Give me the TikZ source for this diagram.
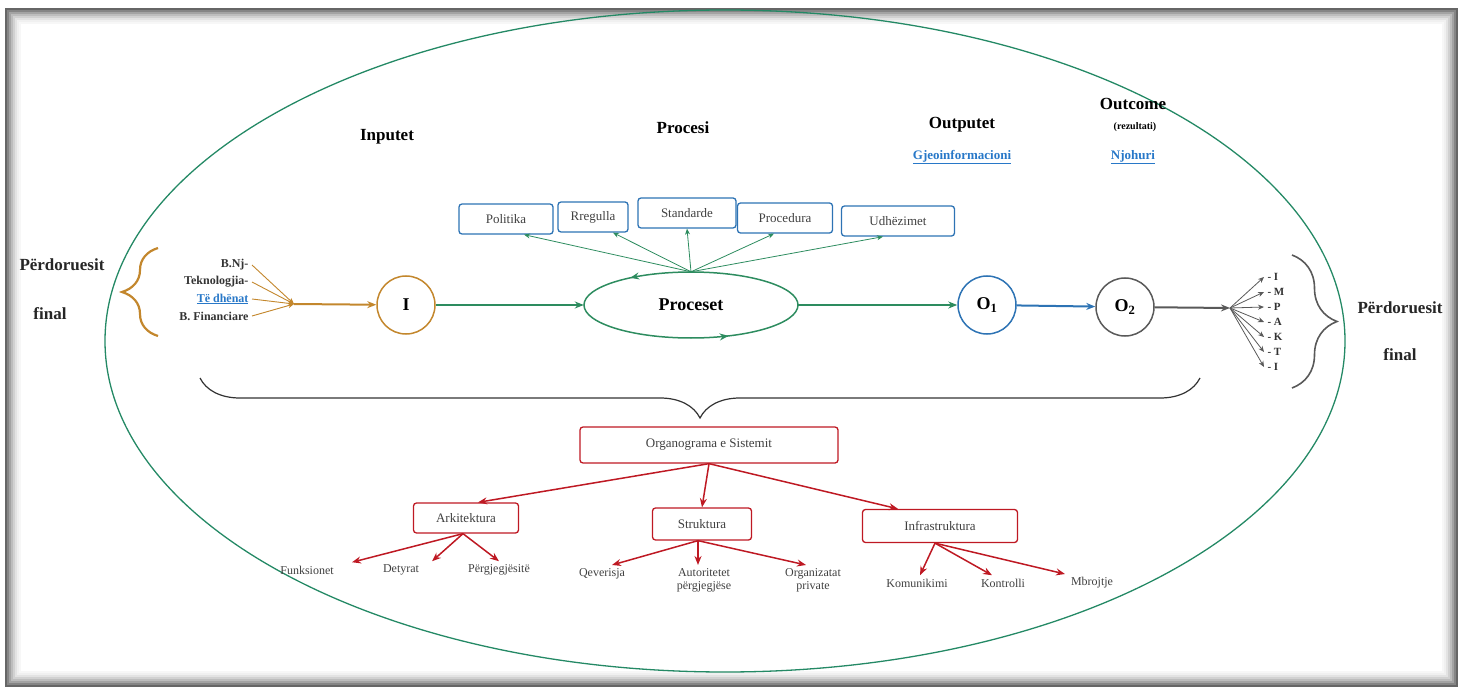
\documentclass[tikz,border=0pt]{standalone}
\usepackage{fontspec}
\setmainfont{Liberation Serif}
\usetikzlibrary{positioning,shapes.geometric,arrows,arrows.meta,decorations.pathreplacing,decorations.markings}

\definecolor{flowgreen}{RGB}{45,140,95}
\definecolor{boxblue}{RGB}{45,115,180}
\definecolor{inbrown}{RGB}{195,135,45}
\definecolor{orgred}{RGB}{190,25,35}
\definecolor{linkblue}{RGB}{40,120,200}

\tikzset{
  head/.style={font=\fontsize{17}{19}\selectfont\bfseries},
  link/.style={font=\fontsize{13}{15}\selectfont\bfseries,text=linkblue},
  procbox/.style={draw=boxblue,rounded corners=3pt,line width=1.3pt,minimum height=30pt,font=\fontsize{13}{15}\selectfont,text=black!75},
  orgbox/.style={draw=orgred,rounded corners=3pt,line width=1.3pt,minimum height=32pt,font=\fontsize{13}{15}\selectfont,text=black!75},
  leaf/.style={font=\fontsize{12}{13}\selectfont,text=black!75,align=center},
  stage/.style={circle,minimum size=58pt,line width=1.5pt,font=\fontsize{18}{20}\selectfont\bfseries},
  item/.style={font=\fontsize{12}{13}\selectfont\bfseries,text=black!80},
  user/.style={font=\fontsize{17}{19}\selectfont\bfseries,text=black!85},
  bigtip/.style={-{Stealth[length=9pt,width=7pt]}},
  smalltip/.style={-{Stealth[length=6pt,width=5pt]}},
  redarrow/.style={orgred,line width=1.5pt,-{Stealth[length=9pt,width=7pt]}}
}

\begin{document}
\begin{tikzpicture}[x=1pt,y=-1pt]
\useasboundingbox (0,0) rectangle (1470,687);
% shaded frame
\foreach \i/\c in {0/60,1/48,2/36,3/26,4/18,5/11,6/6,7/3}
  \draw[black!\c,line width=2.2pt] (6+2*\i,9+2*\i) rectangle (1457-2*\i,686-2*\i);
\draw[flowgreen!80!teal,line width=1.3pt] (725,341) ellipse [x radius=620,y radius=331];

% headings
\node[head] (inputet) at (387,137) {Inputet};
\node[head] (procesi) at (683,128) {Procesi};
\node[head] (outputet) at (962,125) {Outputet};
\node[link] (gjeo) at (962,157) {\underline{Gjeoinformacioni}};
\node[head] (outcome) at (1133,104) {Outcome};
\node[font=\fontsize{10}{11}\selectfont\bfseries] (rezultati) at (1135,127) {(rezultati)};
\node[link] (njohuri) at (1133,157) {\underline{Njohuri}};

% process boxes
\foreach \name/\txt/\x/\y/\w in {politika/Politika/506/219/94,rregulla/Rregulla/593/217/70,standarde/Standarde/687/213/98,procedura/Procedura/785/218/95,udhezimet/Udhëzimet/898/221/113}
  \node[procbox,minimum width=\w pt] (\name) at (\x,\y) {\txt};

% main flow
\node[stage,draw=inbrown] (inp) at (406,305) {I};
\node[ellipse,minimum width=214pt,minimum height=66pt,inner sep=0pt,font=\fontsize{18}{20}\selectfont\bfseries] (proc) at (691,305) {Proceset};
\draw[flowgreen,line width=1.5pt,postaction={decorate},
  decoration={markings,mark=at position 0.17 with {\arrowreversed{Stealth[length=9pt,width=7pt]}},mark=at position 0.62 with {\arrowreversed{Stealth[length=9pt,width=7pt]}}}]
  (proc.center) ellipse [x radius=107,y radius=33];
\node[stage,draw=boxblue] (out1) at (987,305) {O\textsubscript{1}};
\node[stage,draw=black!65] (out2) at (1125,307) {O\textsubscript{2}};

\draw[flowgreen,line width=0.8pt,smalltip] (proc.north) -- ([xshift=18pt]politika.south);
\draw[flowgreen,line width=0.8pt,smalltip] (proc.north) -- ([xshift=20pt]rregulla.south);
\draw[flowgreen,line width=0.8pt,smalltip] (proc.north) -- (standarde.south);
\draw[flowgreen,line width=0.8pt,smalltip] (proc.north) -- ([xshift=-11pt]procedura.south);
\draw[flowgreen,line width=0.8pt,smalltip] (proc.north) -- ([xshift=-15pt]udhezimet.south);

% inputs
\node[item,anchor=east] (bnj) at (252,265) {B.Nj-};
\node[item,anchor=east] (tek) at (252,282) {Teknologjia-};
\node[link,anchor=east,font=\fontsize{12}{13}\selectfont\bfseries] (dhenat) at (252,299) {\underline{Të dhënat}};
\node[item,anchor=east] (bfin) at (252,316) {B. Financiare};
\coordinate (gin) at (294,304);
\foreach \n in {bnj,tek,dhenat,bfin}
  \draw[inbrown,line width=0.9pt,smalltip] (\n.east) -- (gin);
\draw[inbrown,line width=2pt,bigtip] (gin) -- (inp);
\draw[inbrown,line width=2.2pt,decorate,decoration={brace,amplitude=36pt}] (158,336) -- (158,248);
\node[user] (userl) at (62,265) {Përdoruesit};
\node[user] (finall) at (50,314) {final};

\draw[flowgreen,line width=2pt,bigtip] (inp) -- (proc);
\draw[flowgreen,line width=2pt,bigtip] (proc) -- (out1);
\draw[boxblue,line width=2pt,bigtip] (out1) -- (out2);

% outcomes
\coordinate (gout) at (1230,308);
\draw[black!65,line width=2pt,bigtip] (out2) -- (gout);
\foreach \t [count=\k] in {I,M,P,A,K,T,I}
  \node[item,anchor=west,font=\fontsize{11}{12}\selectfont\bfseries] (r\k) at (1264,262+15*\k) {- \t};
\foreach \k in {1,...,7}
  \draw[black!65,line width=0.8pt,smalltip] (gout) -- (r\k.west);
\draw[black!65,line width=1.6pt,decorate,decoration={brace,amplitude=45pt}] (1292,255) -- (1292,388);
\node[user] (userr) at (1400,308) {Përdoruesit};
\node[user] (finalr) at (1400,355) {final};

% organogram
\draw[black!80,line width=1.2pt,decorate,decoration={brace,amplitude=40pt}] (1200,378) -- (200,378);
\node[orgbox,minimum width=258pt,minimum height=36pt] (org) at (709,445) {Organograma e Sistemit};
\node[orgbox,minimum width=105pt,minimum height=30pt] (ark) at (466,518) {Arkitektura};
\node[orgbox,minimum width=99pt] (str) at (702,524) {Struktura};
\node[orgbox,minimum width=155pt,minimum height=33pt] (inf) at (940,526) {Infrastruktura};
\draw[redarrow] (org.south) -- ([xshift=12pt]ark.north);
\draw[redarrow] (org.south) -- (str.north);
\draw[redarrow] (org.south) -- ([xshift=-42pt]inf.north);

\foreach \name/\txt/\x in {funk/Funksionet/307,det/Detyrat/401,perg/Përgjegjësitë/499}
  \node[leaf] (\name) at (\x,570) {\txt};
\foreach \name/\txt/\x in {qev/Qeverisja/602,aut/{Autoritetet\\përgjegjëse}/704,orgp/{Organizatat\\private}/813}
  \node[leaf,anchor=north] (\name) at (\x,565) {\txt};
\foreach \name/\txt/\x in {kom/Komunikimi/917,kon/Kontrolli/1003,mbr/Mbrojtje/1092}
  \node[leaf] (\name) at (\x,583) {\txt};

\draw[redarrow] ([xshift=-3pt]ark.south) -- ([xshift=45pt]funk.north);
\draw[redarrow] ([xshift=-3pt]ark.south) -- ([xshift=31pt]det.north);
\draw[redarrow] ([xshift=-3pt]ark.south) -- (perg.north);
\draw[redarrow] ([xshift=-4pt]str.south) -- ([xshift=10pt]qev.north);
\draw[redarrow] ([xshift=-4pt]str.south) -- ([xshift=-6pt]aut.north);
\draw[redarrow] ([xshift=-4pt]str.south) -- ([xshift=-7pt]orgp.north);
\draw[redarrow] ([xshift=-5pt]inf.south) -- ([xshift=3pt]kom.north);
\draw[redarrow] ([xshift=-5pt]inf.south) -- ([xshift=-11pt]kon.north);
\draw[redarrow] ([xshift=-5pt]inf.south) -- ([xshift=-27pt]mbr.north);
\end{tikzpicture}
\end{document}
